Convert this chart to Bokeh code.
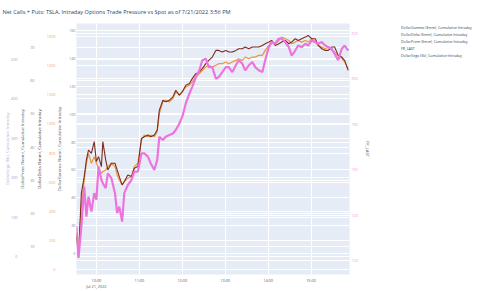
import pandas as pd
from bokeh.plotting import figure
from bokeh.layouts import row
from bokeh.models import (Range1d, LinearAxis, SingleIntervalTicker, Grid, Legend,
                          LegendItem, DatetimeTickFormatter, ColumnDataSource)
from bokeh.embed import file_html
from bokeh.resources import INLINE

title_text = "Net Calls + Puts: TSLA, Intraday Options Trade Pressure vs Spot as of 7/21/2022 3:56 PM"
trade_date = "2022-07-21"
date_label = "Jul 21, 2022"

series_names = ["DollarGamma ($mm), Cumulative Intraday",
                "DollarDelta ($mm), Cumulative Intraday",
                "DollarPrem ($mm), Cumulative Intraday",
                "FR_LAST",
                "DollarVega ($k), Cumulative Intraday"]
series_colors = ["#a3a3c2", "#E8963C", "#7E2A1F", "#EE74DD", "#b8a8d8"]
series_shown = [False, True, True, True, False]

# minutes after midnight
minutes = [572, 575, 579, 583, 586, 589, 593, 597, 600, 603,
           607, 609, 613, 616, 621, 626, 629, 632, 636, 639,
           644, 649, 653, 658, 663, 667, 672, 676, 681, 685,
           688, 693, 697, 702, 707, 711, 716, 720, 725, 730,
           734, 739, 744, 748, 753, 757, 762, 767, 771, 776,
           781, 785, 790, 795, 799, 804, 808, 813, 818, 822,
           827, 832, 836, 841, 845, 850, 855, 859, 864, 869,
           873, 878, 882, 887, 892, 896, 901, 906, 910, 915,
           920, 924, 929, 933, 938, 943, 947, 952]

fr_last = [735.1, 721.2, 735.1, 752.6, 739.4, 748.2, 741.6, 749.7, 746.8, 761.4,
           755.5, 754.1, 751.9, 758.4, 756.3, 749.7, 740.9, 743.8, 737.2, 749.7,
           753.3, 755.5, 759.2, 759.2, 767.2, 767.2, 765.8, 762.8, 759.9, 764.3,
           774.5, 773.1, 774.5, 775.3, 776.0, 777.5, 780.4, 783.3, 789.2, 793.5,
           796.5, 800.8, 803.8, 808.2, 808.9, 805.2, 805.2, 800.1, 800.8, 803.0,
           805.2, 805.2, 803.0, 806.0, 808.2, 806.7, 803.8, 806.0, 807.4, 805.2,
           803.8, 803.0, 808.2, 814.0, 816.2, 815.5, 817.7, 817.7, 816.2, 814.0,
           810.3, 812.5, 814.7, 814.0, 815.5, 814.7, 816.9, 816.2, 815.5, 816.2,
           814.7, 814.0, 813.3, 811.1, 808.2, 813.3, 814.7, 812.5]

dollar_delta = [250.8, 102.7, 433.2, 615.5, 729.4, 797.8, 729.4, 775.0, 729.4, 695.2,
                661.1, 672.5, 683.8, 706.6, 729.4, 706.6, 649.7, 615.5, 581.3, 604.1,
                626.9, 638.3, 706.6, 729.4, 889.0, 923.1, 911.7, 923.1, 911.7, 945.9,
                1071.3, 1151.0, 1162.4, 1151.0, 1173.8, 1219.4, 1196.6, 1219.4, 1253.6, 1265.0,
                1287.8, 1322.0, 1344.8, 1367.5, 1390.3, 1401.7, 1390.3, 1401.7, 1413.1, 1413.1,
                1424.5, 1413.1, 1424.5, 1435.9, 1447.3, 1435.9, 1458.7, 1447.3, 1458.7, 1458.7,
                1470.1, 1470.1, 1504.3, 1538.5, 1561.3, 1549.9, 1572.7, 1595.4, 1584.1, 1572.7,
                1549.9, 1561.3, 1572.7, 1561.3, 1572.7, 1561.3, 1584.1, 1561.3, 1538.5, 1527.1,
                1515.7, 1527.1, 1504.3, 1492.9, 1470.1, 1447.3, 1424.5, 1378.9]

dollar_prem = [13.1, 7.1, 26.1, 31.1, 36.1, 39.1, 38.1, 41.6, 35.6, 37.1,
               34.1, 41.6, 36.1, 33.1, 35.1, 35.1, 33.1, 31.1, 28.6, 29.6,
               31.6, 31.1, 33.6, 34.1, 42.6, 43.1, 43.6, 43.1, 43.6, 45.1,
               51.1, 54.1, 53.6, 54.1, 55.1, 57.1, 55.6, 56.6, 58.6, 59.1,
               60.6, 62.1, 62.6, 63.6, 65.1, 66.1, 67.1, 69.1, 69.1, 68.6,
               69.1, 68.6, 68.6, 69.1, 69.6, 69.6, 70.1, 69.6, 70.1, 70.1,
               70.1, 70.6, 71.1, 71.6, 72.1, 70.6, 71.1, 71.6, 72.1, 71.1,
               71.6, 72.6, 72.1, 72.6, 73.1, 73.6, 72.6, 72.6, 70.6, 69.6,
               69.1, 69.1, 70.1, 70.1, 67.6, 67.1, 66.1, 63.1]

t0 = pd.Timestamp(trade_date)
times = [t0 + pd.Timedelta(minutes=m) for m in minutes]

FONT = "Open Sans"
TICK_FS = "3.8px"
AXT_FS = "4.3px"

# ---------------- main chart ----------------
p = figure(width=385, height=291, output_backend="svg", toolbar_location=None,
           x_axis_type="datetime",
           x_range=Range1d(t0 + pd.Timedelta(minutes=572.2), t0 + pd.Timedelta(minutes=953.8)),
           y_range=Range1d(-15, 165),
           min_border_left=75, min_border_right=36, min_border_top=23, min_border_bottom=16,
           background_fill_color="#E5ECF6", border_fill_color="white", outline_line_color=None)

p.extra_y_ranges = {"b": Range1d(-34, 1689), "c": Range1d(1.6, 77.2),
                    "d": Range1d(-45, 591), "r": Range1d(713.9, 824.4)}

p.title.text = title_text
p.title.align = "left"
p.title.offset = -74
p.title.vertical_align = "top"
p.title.text_font = FONT
p.title.text_font_size = "5.6px"
p.title.text_font_style = "normal"
p.title.text_color = "#2a3f5f"
p.title.standoff = 12


def style_axis(ax, label_color, title_color, label_standoff, title_standoff):
    ax.axis_line_color = None
    ax.major_tick_line_color = None
    ax.minor_tick_line_color = None
    ax.major_tick_out = 0
    ax.major_tick_in = 0
    ax.major_label_text_font = FONT
    ax.major_label_text_font_size = TICK_FS
    ax.major_label_text_color = label_color
    ax.major_label_standoff = label_standoff
    ax.axis_label_text_font = FONT
    ax.axis_label_text_font_size = AXT_FS
    ax.axis_label_text_font_style = "normal"
    ax.axis_label_text_color = title_color
    ax.axis_label_standoff = title_standoff


axA = p.yaxis[0]
axA.ticker = SingleIntervalTicker(interval=20, num_minor_ticks=0)
axA.axis_label = series_names[0]
style_axis(axA, "#7a8599", "#4a5568", 1, 4)

axB = LinearAxis(y_range_name="b", axis_label=series_names[1],
                 ticker=SingleIntervalTicker(interval=200, num_minor_ticks=0))
style_axis(axB, "#f0a868", "#333333", -3, 2)
p.add_layout(axB, "left")

axC = LinearAxis(y_range_name="c", axis_label=series_names[2],
                 ticker=SingleIntervalTicker(interval=10, num_minor_ticks=0))
style_axis(axC, "#8a8f9c", "#4a5568", -2, 2)
p.add_layout(axC, "left")

axD = LinearAxis(y_range_name="d", axis_label=series_names[4],
                 ticker=SingleIntervalTicker(interval=100, num_minor_ticks=0))
style_axis(axD, "#a49cc4", "#b8b0d8", -1, -2)
p.add_layout(axD, "left")

axR = LinearAxis(y_range_name="r", axis_label=series_names[3],
                 ticker=SingleIntervalTicker(interval=20, num_minor_ticks=0))
style_axis(axR, "#f2a6e6", "#4a5568", 2, 4)
p.add_layout(axR, "right")

axX = p.xaxis[0]
axX.ticker = SingleIntervalTicker(interval=3600000, num_minor_ticks=0)
axX.formatter = DatetimeTickFormatter(hours="%H:%M", hourmin="%H:%M", minutes="%H:%M")
first_tick = int((t0 + pd.Timedelta(hours=10)).value // 10**6)
axX.major_label_overrides = {first_tick: "10:00\n" + date_label}
style_axis(axX, "#4a5568", "#4a5568", 3, 0)

p.xgrid.grid_line_color = "white"
p.xgrid.grid_line_width = 1
p.ygrid.grid_line_color = "white"
p.ygrid.grid_line_width = 1
for name, ax in [("b", axB), ("c", axC), ("d", axD), ("r", axR)]:
    g = Grid(dimension=1, ticker=ax.ticker, y_range_name=name,
             grid_line_color="white", grid_line_width=1)
    p.add_layout(g, "center")

src = ColumnDataSource(dict(t=times, delta=dollar_delta, prem=dollar_prem, spot=fr_last))

p.line("t", "delta", source=src, y_range_name="b", color=series_colors[1], line_width=1.2)
p.line("t", "prem", source=src, y_range_name="c", color=series_colors[2], line_width=1.1)
p.line("t", "spot", source=src, y_range_name="r", color=series_colors[3], line_width=2.2)

# ---------------- legend panel ----------------
lp = figure(width=100, height=291, output_backend="svg", toolbar_location=None,
            x_axis_location=None, y_axis_location=None,
            x_range=Range1d(0, 1), y_range=Range1d(0, 1),
            min_border_left=0, min_border_right=0, min_border_top=0, min_border_bottom=0,
            background_fill_color="white", border_fill_color="white", outline_line_color=None)
lp.grid.visible = False

items = []
for name, col, shown in zip(series_names, series_colors, series_shown):
    width = 2.2 if name == "FR_LAST" else 1.2
    r = lp.line(x=[], y=[], color=col, line_width=width, visible=shown)
    items.append(LegendItem(label=name, renderers=[r]))

legend = Legend(items=items, location=(6, 215), orientation="vertical",
                padding=0, margin=0, spacing=0,
                glyph_width=8, glyph_height=7, label_height=7, label_standoff=2,
                label_text_font=FONT, label_text_font_size="3.6px", label_text_color="#2a3f5f",
                border_line_color=None, background_fill_alpha=0)
lp.add_layout(legend, "center")

layout = row(p, lp, spacing=0)
open("out.html", "w").write(file_html(layout, INLINE))
